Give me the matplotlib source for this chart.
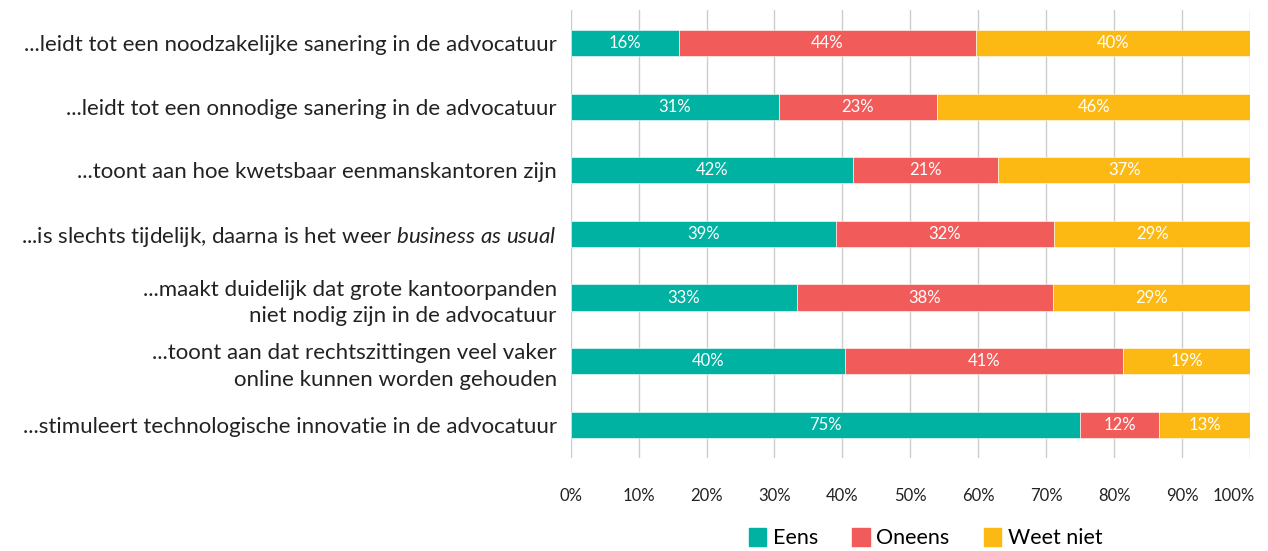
import numpy as np
import matplotlib.pyplot as plt
import matplotlib.transforms as mtransforms
from matplotlib.patches import Patch

plt.rcParams['font.family'] = ['Lato', 'DejaVu Sans']
plt.rcParams['mathtext.fontset'] = 'custom'
plt.rcParams['mathtext.rm'] = 'Lato'
plt.rcParams['mathtext.it'] = 'Lato:italic'

# stellingen (van boven naar beneden)
stellingen = [
    '...leidt tot een noodzakelijke sanering in de advocatuur',
    '...leidt tot een onnodige sanering in de advocatuur',
    '...toont aan hoe kwetsbaar eenmanskantoren zijn',
    r'...is slechts tijdelijk, daarna is het weer $\it{business\ as\ usual}$',
    '...maakt duidelijk dat grote kantoorpanden\nniet nodig zijn in de advocatuur',
    '...toont aan dat rechtszittingen veel vaker\nonline kunnen worden gehouden',
    '...stimuleert technologische innovatie in de advocatuur',
]

eens = [15.9, 30.6, 41.5, 39.0, 33.3, 40.4, 75.0]
oneens = [43.7, 23.3, 21.4, 32.1, 37.7, 40.9, 11.6]
weet_niet = [40.4, 46.1, 37.1, 28.9, 29.0, 18.7, 13.4]

reeksen = ['Eens', 'Oneens', 'Weet niet']
kleuren = ['#00B2A1', '#F15B5A', '#FDB913']

fig = plt.figure(figsize=(12.68, 5.51), dpi=100)
ax = fig.add_axes([0.450, 0.169, 0.536, 0.813])

y = np.arange(len(stellingen))
links = np.zeros(len(stellingen))
for naam, waarden, kleur in zip(reeksen, [eens, oneens, weet_niet], kleuren):
    waarden = np.array(waarden)
    ax.barh(y, waarden, left=links, height=0.41, color=kleur,
            edgecolor='white', linewidth=0.4, label=naam, zorder=3)
    for yi, l, w in zip(y, links, waarden):
        ax.text(l + w / 2, yi, f'{w:.0f}%', ha='center', va='center',
                color='white', fontsize=12, zorder=4)
    links += waarden

ax.set_xlim(0, 100)
ax.set_ylim(len(stellingen) - 0.48, -0.52)
ax.set_xticks(np.arange(0, 101, 10))
ax.set_xticklabels([f'{v}%' for v in range(0, 101, 10)], fontsize=12, color='#222222')
ax.set_yticks(y)
ax.set_yticklabels(stellingen, fontsize=16, color='#222222', linespacing=1.4)
ax.tick_params(axis='both', length=0)
ax.tick_params(axis='x', pad=22)
ax.tick_params(axis='y', pad=10)
ax.grid(axis='x', color='#cccccc', linewidth=1, zorder=0)
for s in ax.spines.values():
    s.set_visible(False)

# 100% iets naar links zodat het label binnen beeld blijft
laatste = ax.get_xticklabels()[-1]
laatste.set_transform(laatste.get_transform() +
                      mtransforms.ScaledTranslation(-0.17, 0, fig.dpi_scale_trans))

handles = [Patch(color=k, label=n) for n, k in zip(reeksen, kleuren)]
fig.legend(handles=handles, loc='lower center', bbox_to_anchor=(0.73, -0.03),
           ncol=3, frameon=False, fontsize=15.5, handlelength=0.8,
           handleheight=0.9, handletextpad=0.3, columnspacing=1.6)

fig.savefig('out.png', dpi=100)
